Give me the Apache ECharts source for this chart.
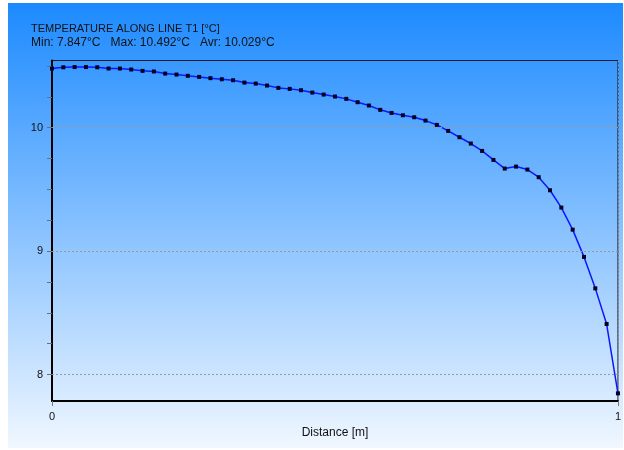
<!DOCTYPE html>
<html>
<head>
<meta charset="utf-8">
<script src="https://cdn.jsdelivr.net/npm/echarts@6/dist/echarts.min.js"></script>
<style>
  html, body { margin: 0; padding: 0; background: #ffffff; }
  #chart { width: 624px; height: 450px; }
</style>
</head>
<body>
<div id="chart"></div>
<script>
// Sample positions along line T1 [m]
const distance = [
  0.00, 0.02, 0.04, 0.06, 0.08, 0.10, 0.12, 0.14, 0.16, 0.18,
  0.20, 0.22, 0.24, 0.26, 0.28, 0.30, 0.32, 0.34, 0.36, 0.38,
  0.40, 0.42, 0.44, 0.46, 0.48, 0.50, 0.52, 0.54, 0.56, 0.58,
  0.60, 0.62, 0.64, 0.66, 0.68, 0.70, 0.72, 0.74, 0.76, 0.78,
  0.80, 0.82, 0.84, 0.86, 0.88, 0.90, 0.92, 0.94, 0.96, 0.98,
  1.00
];

// Temperature at each sample [°C]
const temperature = [
  10.480, 10.490, 10.492, 10.492, 10.490, 10.480, 10.480, 10.472, 10.461, 10.456,
  10.439, 10.431, 10.421, 10.412, 10.402, 10.393, 10.385, 10.366, 10.358, 10.342,
  10.323, 10.315, 10.304, 10.285, 10.269, 10.253, 10.234, 10.207, 10.180, 10.145,
  10.120, 10.101, 10.085, 10.058, 10.023, 9.974, 9.923, 9.872, 9.812, 9.739,
  9.669, 9.685, 9.661, 9.599, 9.493, 9.353, 9.174, 8.953, 8.698, 8.409,
  7.847
];

// Axis ticks and labels
const xLabels = [0, 1];
const yLabels = [8, 9, 10];
const yTicks = [8, 8.25, 8.5, 8.75, 9, 9.25, 9.5, 9.75, 10, 10.25, 10.5];

const titleText = 'TEMPERATURE ALONG LINE T1 [°C]';
const statsText = 'Min: 7.847°C   Max: 10.492°C   Avr: 10.029°C';
const xName = 'Distance [m]';

const FONT = '"Liberation Sans", Arial, Helvetica, sans-serif';
const chart = echarts.init(document.getElementById('chart'), null, { renderer: 'canvas' });

const option = {
  animation: false,
  backgroundColor: '#ffffff',
  graphic: [{
    type: 'rect',
    silent: true,
    z: -100,
    shape: { x: 8, y: 3, width: 615, height: 445 },
    style: {
      fill: new echarts.graphic.LinearGradient(0, 0, 0, 1, [
        { offset: 0, color: '#1c8aff' },
        { offset: 1, color: '#f0f7ff' }
      ])
    }
  }],
  title: [
    {
      text: titleText, left: 31, top: 23, padding: 0,
      textStyle: { fontFamily: FONT, fontSize: 11, fontWeight: 'normal', color: '#111111' }
    },
    {
      text: statsText, left: 31, top: 37, padding: 0,
      textStyle: { fontFamily: FONT, fontSize: 12, fontWeight: 'normal', color: '#111111' }
    }
  ],
  grid: {
    left: 52, right: 6, top: 60.5, bottom: 49,
    show: true, borderColor: '#1a1a2a', borderWidth: 1, backgroundColor: 'transparent'
  },
  xAxis: {
    type: 'value', min: xLabels[0], max: xLabels[xLabels.length - 1], interval: 1,
    name: xName, nameLocation: 'middle', nameGap: 26,
    nameTextStyle: { fontFamily: FONT, fontSize: 12, color: '#111111' },
    axisLine: { lineStyle: { color: '#000000', width: 2 } },
    axisTick: { show: true, length: 5, lineStyle: { color: '#777777' } },
    axisLabel: { margin: 10, fontFamily: FONT, fontSize: 11, color: '#111111' },
    splitLine: { show: true, lineStyle: { type: [2, 2], color: '#9a9a9a', width: 1 } }
  },
  yAxis: {
    type: 'value', min: 7.785, max: 10.545,
    axisLine: { show: true, onZero: false, lineStyle: { color: '#000000', width: 2 } },
    axisTick: { show: true, interval: 0, customValues: yTicks, length: 5, lineStyle: { color: '#6f6f6f', width: 1 } },
    axisLabel: { customValues: yLabels, margin: 9, fontFamily: FONT, fontSize: 11, color: '#111111' },
    splitLine: { show: false }
  },
  series: [{
    type: 'line',
    data: distance.map((d, i) => [d, temperature[i]]),
    symbol: 'rect',
    symbolSize: 4,
    showAllSymbol: true,
    itemStyle: { color: '#000022' },
    lineStyle: { color: '#0a18ff', width: 1.5 },
    z: 3,
    markLine: {
      silent: true,
      symbol: 'none',
      label: { show: false },
      lineStyle: { type: [2, 2], color: '#9a9a9a', width: 1 },
      data: yLabels.map(v => ({ yAxis: v }))
    }
  }]
};

chart.setOption(option);
</script>
</body>
</html>
